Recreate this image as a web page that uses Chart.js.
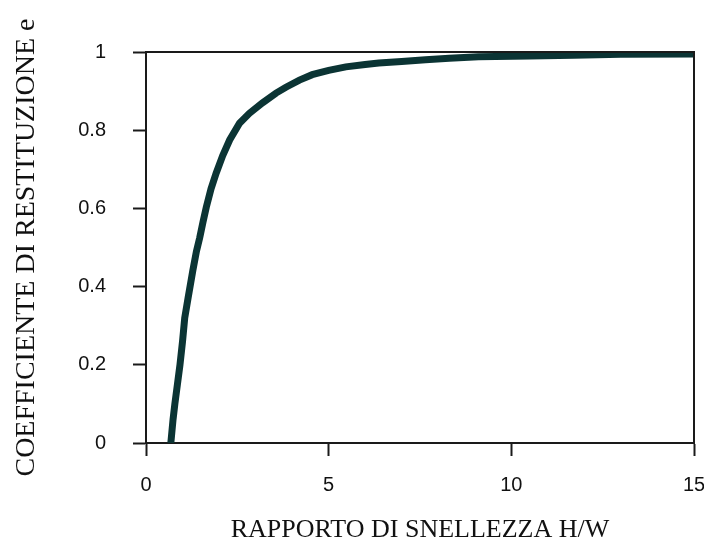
<!DOCTYPE html>
<html>
<head>
<meta charset="utf-8">
<script src="https://cdn.jsdelivr.net/npm/chart.js@4/dist/chart.umd.min.js"></script>
<style>
  html, body { margin: 0; padding: 0; background: #fff; }
  #wrap { width: 704px; height: 546px; }
</style>
</head>
<body>
<div id="wrap"><canvas id="c" width="704" height="546"></canvas></div>
<script>
// Data
const ratioHW = [0.68, 0.74, 0.79, 0.86, 0.93, 1.0, 1.06, 1.15, 1.28, 1.38, 1.47, 1.56, 1.65, 1.78, 1.92, 2.1, 2.29, 2.56, 2.83, 3.19, 3.56, 3.83, 4.2, 4.55, 5.0, 5.47, 6.0, 6.37, 7.0, 7.65, 8.3, 9.1, 10.5, 11.7, 13.0, 15.0];
const restitution = [0.0, 0.06, 0.10, 0.15, 0.20, 0.26, 0.32, 0.37, 0.44, 0.49, 0.525, 0.565, 0.603, 0.65, 0.69, 0.735, 0.775, 0.818, 0.843, 0.87, 0.895, 0.91, 0.928, 0.942, 0.953, 0.962, 0.968, 0.972, 0.976, 0.980, 0.984, 0.988, 0.990, 0.992, 0.994, 0.995];
const xTicks = [0, 5, 10, 15];
const yTicks = [0, 0.2, 0.4, 0.6, 0.8, 1];
const xTitle = 'RAPPORTO DI SNELLEZZA H/W';
const yTitle = 'COEFFICIENTE DI RESTITUZIONE e';

const points = ratioHW.map((x, i) => ({ x: x, y: restitution[i] }));

const frame = {
  id: 'frame',
  afterDraw(chart) {
    const { ctx, chartArea: a } = chart;
    ctx.save();
    ctx.strokeStyle = '#1a1a1a';
    ctx.lineWidth = 2;
    ctx.beginPath();
    ctx.moveTo(a.left, a.top);
    ctx.lineTo(a.right, a.top);
    ctx.lineTo(a.right, a.bottom);
    ctx.stroke();
    ctx.restore();
  }
};

const tickFont = { family: '"Liberation Sans Narrow", "Liberation Sans", Arial, sans-serif', size: 20 };
const titleFont = { family: '"Liberation Serif", "Times New Roman", serif' };

new Chart(document.getElementById('c'), {
  type: 'line',
  data: {
    datasets: [{
      data: points,
      borderColor: '#0b3434',
      borderWidth: 7,
      pointRadius: 0,
      tension: 0,
      fill: false
    }]
  },
  options: {
    responsive: false,
    animation: false,
    events: [],
    layout: { padding: { top: 52, right: 10, left: 0, bottom: 0 } },
    plugins: { legend: { display: false }, tooltip: { enabled: false } },
    scales: {
      x: {
        type: 'linear',
        min: 0, max: 15,
        afterBuildTicks: s => { s.ticks = xTicks.map(v => ({ value: v })); },
        afterFit: s => { s.height = 103; s.paddingLeft = 0; s.paddingRight = 0; },
        grid: { drawOnChartArea: false, drawTicks: true, tickLength: 13, tickColor: '#1a1a1a', tickWidth: 2 },
        border: { display: true, color: '#1a1a1a', width: 2 },
        ticks: { color: '#111', font: tickFont, padding: 17, maxRotation: 0, callback: v => String(v) },
        title: { display: true, text: xTitle, color: '#111', font: Object.assign({ size: 26 }, titleFont), padding: { top: 0, bottom: 0 } }
      },
      y: {
        type: 'linear',
        min: 0, max: 1,
        afterBuildTicks: s => { s.ticks = yTicks.map(v => ({ value: v })); },
        afterFit: s => { s.width = 146; s.paddingTop = 0; s.paddingBottom = 0; },
        grid: { drawOnChartArea: false, drawTicks: true, tickLength: 13, tickColor: '#1a1a1a', tickWidth: 2 },
        border: { display: true, color: '#1a1a1a', width: 2 },
        ticks: { color: '#111', font: tickFont, padding: 27, callback: v => String(v) },
        title: { display: true, text: yTitle, color: '#111', font: Object.assign({ size: 28 }, titleFont), padding: { top: 10, bottom: 0 } }
      }
    }
  },
  plugins: [frame]
});
</script>
</body>
</html>
